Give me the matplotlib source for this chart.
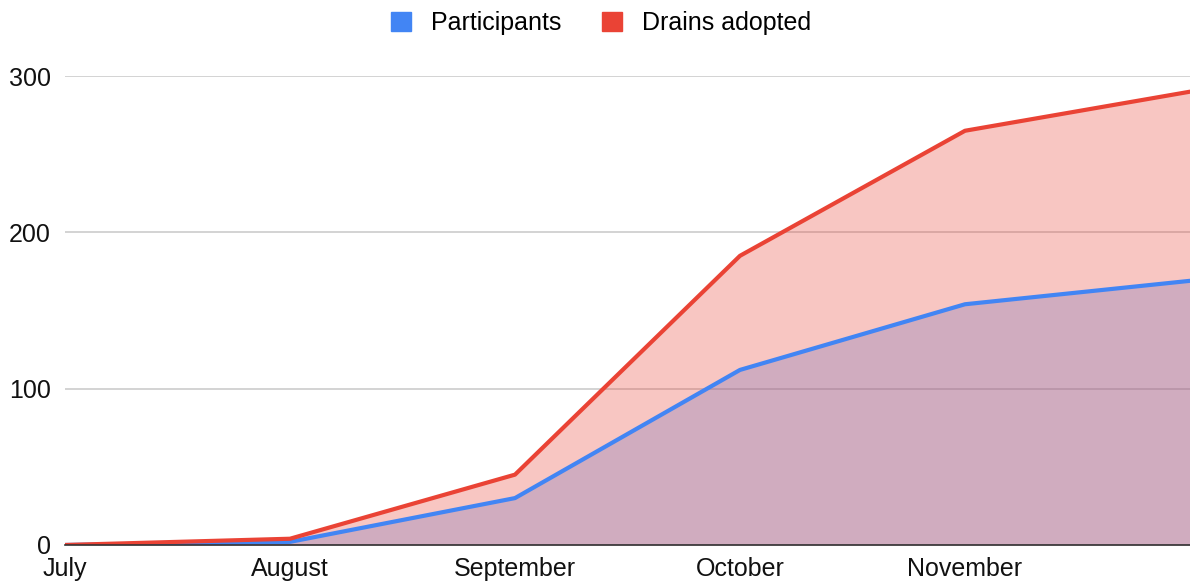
import matplotlib.pyplot as plt
from matplotlib.patches import Patch

plt.rcParams['font.family'] = ['Liberation Sans', 'DejaVu Sans']

# Monthly cumulative counts (last point is the end of the period, unlabelled)
months = ['July', 'August', 'September', 'October', 'November']
participants = [0, 2, 30, 112, 154, 169]
drains = [0, 4, 45, 185, 265, 290]

blue = '#4285f4'
red = '#ea4335'

fig = plt.figure(figsize=(11.9, 5.85), dpi=100)
ax = fig.add_axes([0.0546, 0.0684, 0.9454, 0.8016])

x = list(range(len(participants)))

# Areas (Google Sheets style, 30% opacity)
ax.fill_between(x, participants, color=blue, alpha=0.3, lw=0, zorder=2)
ax.fill_between(x, drains, color=red, alpha=0.3, lw=0, zorder=3)
ax.plot(x, participants, c=blue, lw=3, zorder=4, solid_capstyle='round')
ax.plot(x, drains, c=red, lw=3, zorder=5, solid_capstyle='round')

ax.set_xlim(0, len(participants) - 1)
ax.set_ylim(0, 300)
ax.set_yticks([0, 100, 200, 300])
ax.set_xticks(range(len(months)))
ax.set_xticklabels(months)

ax.grid(axis='y', color='#cccccc', lw=1.2, zorder=1)
for s in ['top', 'right', 'left']:
    ax.spines[s].set_visible(False)
ax.spines['bottom'].set_color('#333333')
ax.spines['bottom'].set_linewidth(1.2)
ax.spines['bottom'].set_zorder(6)
ax.tick_params(length=0, labelsize=18, colors='#111111')
ax.tick_params(axis='y', pad=10)
ax.tick_params(axis='x', pad=9)

handles = [Patch(color=blue, label='Participants'), Patch(color=red, label='Drains adopted')]
fig.legend(handles=handles, loc='center', bbox_to_anchor=(0.505, 0.96), ncol=2, frameon=False,
           fontsize=18, handlelength=0.8, handleheight=0.8, columnspacing=1.6, handletextpad=0.8)

plt.savefig('out.png', dpi=100)
